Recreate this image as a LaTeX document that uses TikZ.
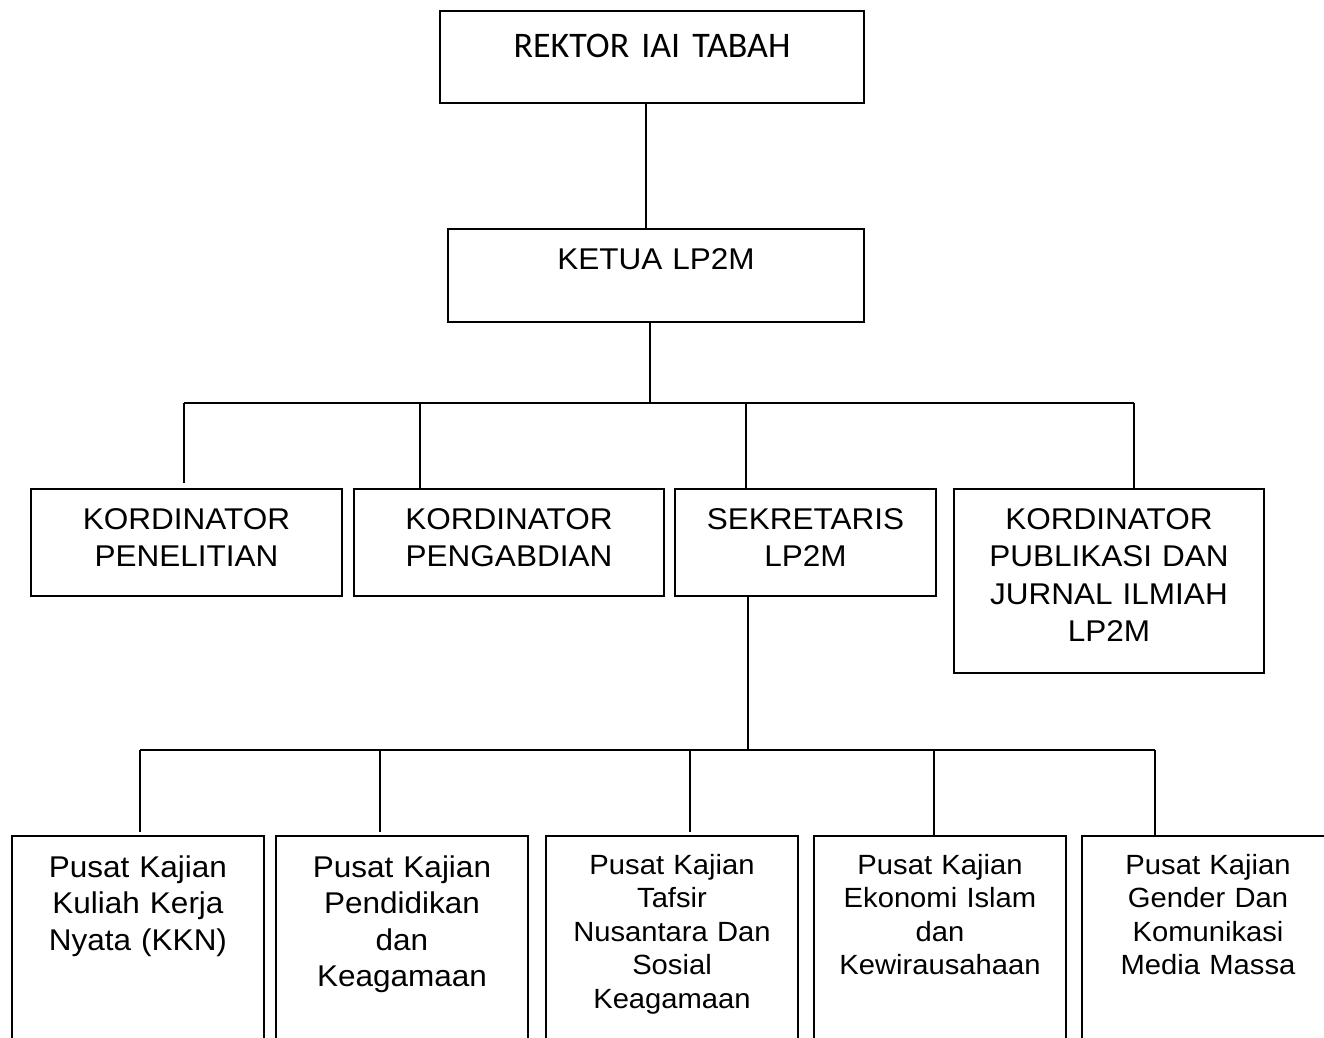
\documentclass[tikz,border=0pt]{standalone}
\usepackage{fontspec}
\setmainfont{Liberation Sans}[FakeStretch=1.05]
\newfontfamily\calibri{Carlito}

\tikzset{
  kotak/.style={draw, line width=1.1pt, inner sep=0pt, outer sep=0pt, align=center, anchor=north west},
  garis/.style={line width=0.9pt},
  besar/.style={font=\fontsize{15}{18.75}\selectfont},
  kecil/.style={font=\fontsize{13.9}{16.75}\selectfont}
}

\begin{document}
\begin{tikzpicture}[x=0.5pt, y=-0.5pt]

\useasboundingbox (0,0) rectangle (1324,1038);
\clip (0,0) rectangle (1324,1038);

% Pimpinan
\node[kotak, text width=212pt, text height=23.5pt, text depth=22.5pt, font=\calibri\fontsize{18}{22}\selectfont] (rektor) at (440,11) {REKTOR IAI TABAH};
\node[kotak, besar, text width=208pt, text height=20.5pt, text depth=26pt] (ketua) at (448,229) {KETUA LP2M};

\draw[garis] ([xshift=-3pt]rektor.south) -- ([xshift=-3pt]rektor.south |- ketua.north);

% Koordinator dan sekretaris
\node[kotak, besar, text width=155.5pt, text height=20pt, text depth=33.5pt] (penelitian) at (31,489) {KORDINATOR\\PENELITIAN};
\node[kotak, besar, text width=155pt, text height=20pt, text depth=33.5pt] (pengabdian) at (354,489) {KORDINATOR\\PENGABDIAN};
\node[kotak, besar, text width=130.5pt, text height=20pt, text depth=33.5pt] (sekretaris) at (675,489) {SEKRETARIS\\LP2M};
\node[kotak, besar, text width=155pt, text height=20pt, text depth=72pt] (publikasi) at (954,489) {KORDINATOR\\PUBLIKASI DAN\\JURNAL ILMIAH\\LP2M};

\coordinate (j0) at (650,403);
\coordinate (j1) at (184,403);
\coordinate (j2) at (420,403);
\coordinate (j3) at (746,403);
\coordinate (j4) at (1134,403);

\draw[garis] (ketua.south -| j0) -- (j0);
\draw[garis] (j1) -- (j4);
\draw[garis, shorten >=3pt] (j1) -- (j1 |- penelitian.north);
\draw[garis] (j2) -- (j2 |- pengabdian.north);
\draw[garis] (j3) -- (j3 |- sekretaris.north);
\draw[garis] (j4) -- (j4 |- publikasi.north);

% Pusat kajian
\node[kotak, besar, text width=126pt, text height=20.5pt, text depth=120pt, font=\fontsize{15}{18.25}\selectfont] (kkn) at (12,836) {Pusat Kajian\\Kuliah Kerja\\Nyata (KKN)};
\node[kotak, besar, text width=126pt, text height=20.5pt, text depth=120pt, font=\fontsize{15}{18.25}\selectfont] (pendidikan) at (276,836) {Pusat Kajian\\Pendidikan\\dan\\Keagamaan};
\node[kotak, kecil, text width=126pt, text height=19pt, text depth=120pt] (tafsir) at (546,836) {Pusat Kajian\\Tafsir\\Nusantara Dan\\Sosial\\Keagamaan};
\node[kotak, kecil, text width=126pt, text height=19pt, text depth=120pt] (ekonomi) at (814,836) {Pusat Kajian\\Ekonomi Islam\\dan\\Kewirausahaan};
\node[kotak, kecil, text width=126pt, text height=19pt, text depth=120pt] (gender) at (1082,836) {Pusat Kajian\\Gender Dan\\Komunikasi\\Media Massa};

\coordinate (k0) at (748,750);
\coordinate (k1) at (140,750);
\coordinate (k2) at (380,750);
\coordinate (k3) at (690,750);
\coordinate (k4) at (934,750);
\coordinate (k5) at (1155,750);

\draw[garis] (sekretaris.south -| k0) -- (k0);
\draw[garis] (k1) -- (k5);
\draw[garis, shorten >=2pt] (k1) -- (k1 |- kkn.north);
\draw[garis, shorten >=2pt] (k2) -- (k2 |- pendidikan.north);
\draw[garis, shorten >=2pt] (k3) -- (k3 |- tafsir.north);
\draw[garis] (k4) -- (k4 |- ekonomi.north);
\draw[garis] (k5) -- (k5 |- gender.north);

\end{tikzpicture}
\end{document}
